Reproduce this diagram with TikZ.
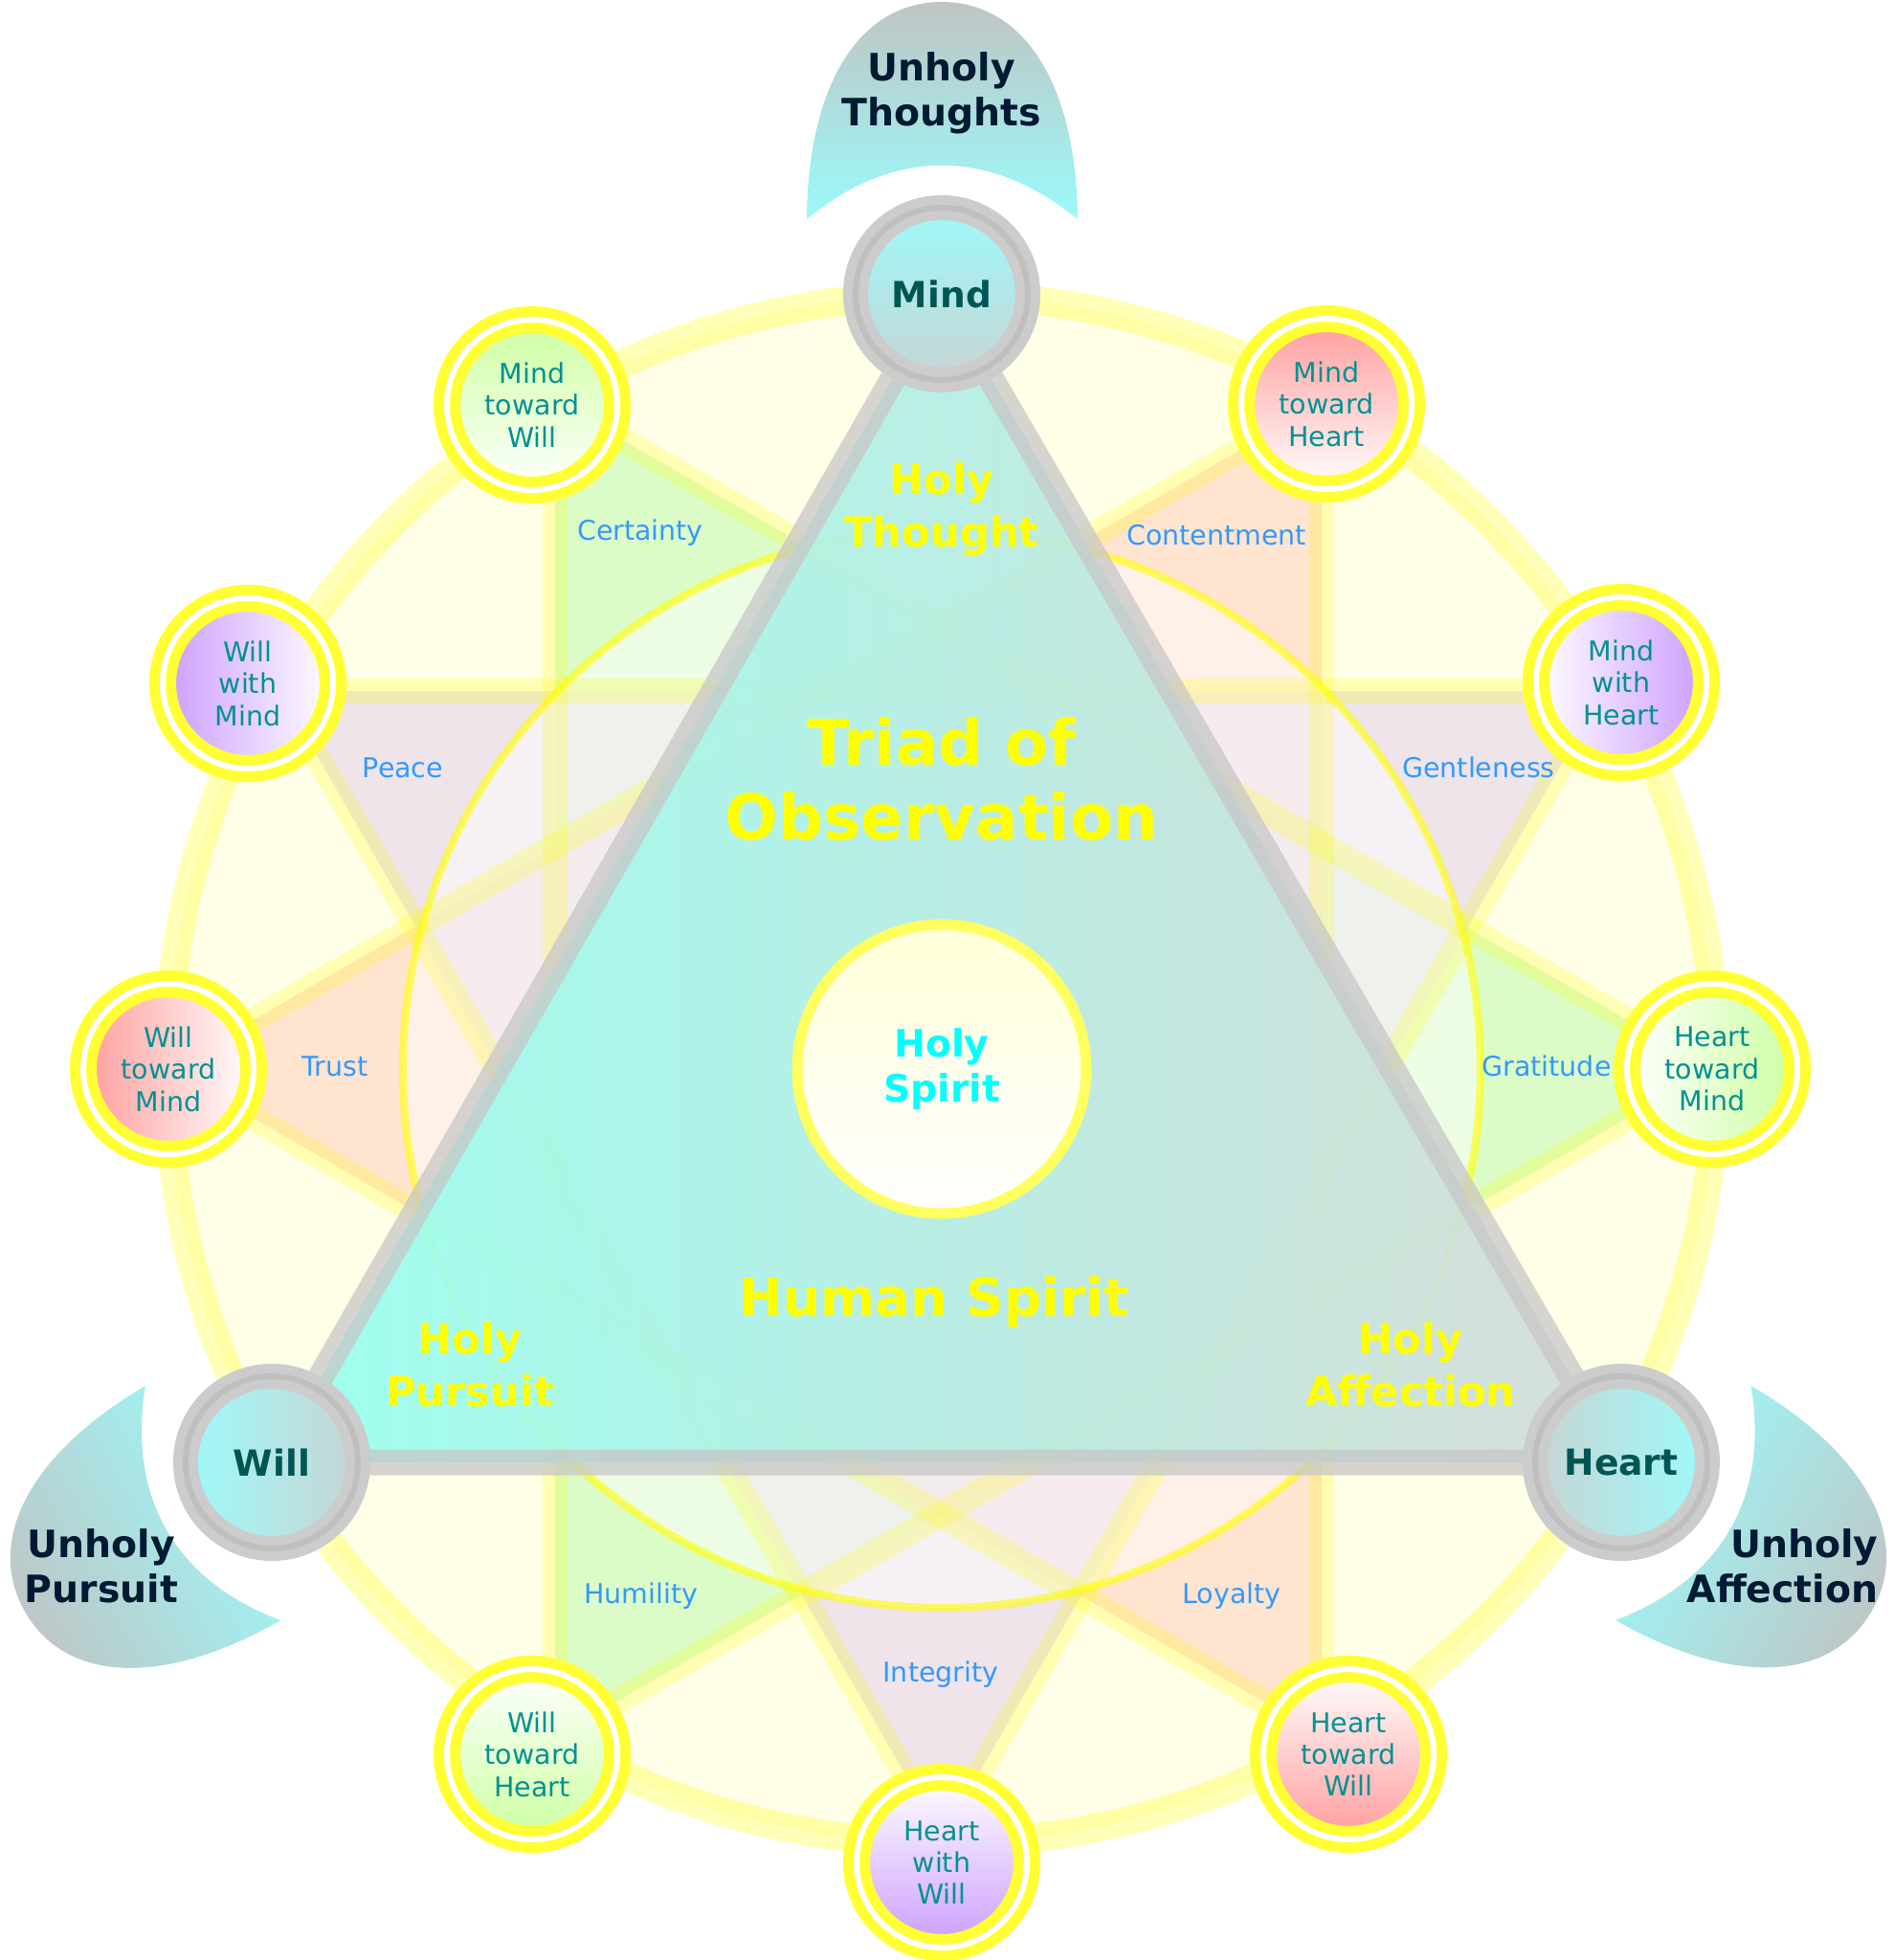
\documentclass[tikz,border=0pt]{standalone}
\usepackage{fontspec}
\setmainfont{DejaVu Sans}
\usepackage{tikz}
\pgfdeclarelayer{back}
\pgfsetlayers{back,main}
\definecolor{pureyellow}{RGB}{255,255,0}
\definecolor{purecyan}{RGB}{0,255,255}
\definecolor{paleyellow}{RGB}{255,254,230}
\definecolor{ringyellow}{RGB}{255,255,51}
\definecolor{greentint}{RGB}{198,252,179}
\definecolor{peachtint}{RGB}{255,211,192}
\definecolor{mauvetint}{RGB}{228,212,235}
\definecolor{greennode}{RGB}{204,255,160}
\definecolor{rednode}{RGB}{255,156,156}
\definecolor{purplenode}{RGB}{204,156,255}
\definecolor{corecyan}{RGB}{158,250,250}
\definecolor{coregray}{RGB}{200,212,212}
\definecolor{tricyan}{RGB}{150,255,240}
\definecolor{trigray}{RGB}{212,220,216}
\definecolor{petalgray}{RGB}{192,196,196}
\definecolor{petalcyan}{RGB}{155,250,250}
\definecolor{coretext}{RGB}{0,85,85}
\definecolor{facettext}{RGB}{0,145,145}
\definecolor{virtueblue}{RGB}{51,153,255}
\definecolor{unholytext}{RGB}{0,26,51}
\definecolor{spiritfill}{RGB}{255,255,216}
\definecolor{spiritring}{RGB}{255,255,96}
\tikzstyle{Core}=[circle, minimum size=1.8cm, inner sep=0pt, draw=black!20, line width=1mm, double=black!25, double distance=0.6mm, top color=corecyan, bottom color=coregray, text=coretext, font=\bfseries\fontsize{10.7}{13}\selectfont]
\tikzstyle{Facet}=[circle, minimum size=1.78cm, inner sep=0pt, draw=ringyellow, line width=1.1mm, double=white, double distance=0.6mm, text=facettext, align=center, font=\fontsize{8.1}{9.5}\selectfont]
\tikzstyle{Green}=[Facet, top color=greennode, bottom color=white]
\tikzstyle{Red}=[Facet, top color=rednode, bottom color=white]
\tikzstyle{Purple}=[Facet, top color=purplenode, bottom color=white]
\tikzstyle{Virtue}=[text=virtueblue, font=\fontsize{8.1}{9.5}\selectfont]
\tikzstyle{Holy}=[text=pureyellow, align=center, font=\bfseries\fontsize{12.3}{15.6}\selectfont]
\tikzstyle{Unholy}=[text=unholytext, inner sep=0pt, font=\bfseries\fontsize{11.2}{13.4}\selectfont]
\tikzstyle{Petal}=[top color=petalgray, bottom color=petalcyan]
\tikzstyle{Edge}=[draw=pureyellow, draw opacity=0.22, line width=2.6mm]

\begin{document}
\begin{tikzpicture}
    \useasboundingbox (-9.84,-9.31) rectangle (9.95,11.17);
    \path
    (0,8.10) node[Core] (mind) {Mind}
    (7.10,-4.11) node[Core, shading angle=-90] (heart) {Heart}
    (-7.00,-4.11) node[Core, shading angle=90] (will) {Will}
    (4.02,6.95) node[Red] (mth) {Mind\\toward\\Heart}
    (7.10,4.04) node[Purple, shading angle=-90] (mwh) {Mind\\with\\Heart}
    (8.05,0) node[Green, shading angle=-90] (htm) {Heart\\toward\\Mind}
    (4.25,-7.16) node[Red, shading angle=180] (htw) {Heart\\toward\\Will}
    (0,-8.29) node[Purple, shading angle=180] (hww) {Heart\\with\\Will}
    (-4.28,-7.16) node[Green, shading angle=180] (wth) {Will\\toward\\Heart}
    (-8.08,0) node[Red, shading angle=90] (wtm) {Will\\toward\\Mind}
    (-7.25,4.03) node[Purple, shading angle=90] (wwm) {Will\\with\\Mind}
    (-4.28,6.94) node[Green] (mtw) {Mind\\toward\\Will};

    \path (0,0) node[circle, minimum size=3.02cm, draw=spiritring, line width=1.1mm, top color=spiritfill, bottom color=white, text=purecyan, align=center, font=\bfseries\fontsize{11.2}{13.4}\selectfont] (spirit) {Holy\\Spirit}
    (0,3.03) node[Holy, font=\bfseries\fontsize{18.7}{22.3}\selectfont] (triad) {Triad of\\Observation}
    (0,5.85) node[Holy] (hthought) {Holy\\Thought}
    (-4.93,-3.09) node[Holy] (hpursuit) {Holy\\Pursuit}
    (4.90,-3.09) node[Holy] (haffect) {Holy\\Affection}
    (-0.08,-2.43) node[Holy, font=\bfseries\fontsize{15.6}{18}\selectfont] (human) {Human Spirit};

    \path (-3.15,5.60) node[Virtue] (certainty) {Certainty}
    (2.87,5.58) node[Virtue] (content) {Contentment}
    (-5.63,3.15) node[Virtue] (peace) {Peace}
    (5.61,3.15) node[Virtue] (gentle) {Gentleness}
    (-6.34,0.03) node[Virtue] (trust) {Trust}
    (6.32,0.03) node[Virtue] (gratitude) {Gratitude}
    (-3.14,-5.51) node[Virtue] (humility) {Humility}
    (-0.01,-6.33) node[Virtue] (integrity) {Integrity}
    (3.03,-5.51) node[Virtue] (loyalty) {Loyalty};

    \path (0,10.20) node[Unholy, align=center] (uthought) {Unholy\\Thoughts}
    (-8.78,-5.19) node[Unholy, align=center] (upursuit) {Unholy\\Pursuit}
    (9.79,-5.19) node[Unholy, align=right, anchor=east] (uaffect) {Unholy\\Affection};

    \begin{pgfonlayer}{back}
    \fill[paleyellow] (spirit.center) circle (8.09);
    \fill[greentint, fill opacity=0.6] ([shift={(0.24,0.04)}]mtw.center) -- ([shift={(0.24,0.18)}]wth.center) -- (htm.center) -- cycle;
    \fill[peachtint, fill opacity=0.6] ([shift={(-0.05,0.01)}]mth.center) -- ([shift={(-0.28,0.20)}]htw.center) -- (wtm.center) -- cycle;
    \fill[mauvetint, fill opacity=0.6] ([shift={(-0.18,-0.09)}]mwh.center) -- ([shift={(0,0.26)}]hww.center) -- ([shift={(0.33,-0.08)}]wwm.center) -- cycle;
    \fill[white, fill opacity=0.5] (spirit.center) circle (5.63);
    \draw[Edge] ([shift={(0.24,0.04)}]mtw.center) -- ([shift={(0.24,0.18)}]wth.center) -- (htm.center) -- cycle;
    \draw[Edge] ([shift={(-0.05,0.01)}]mth.center) -- ([shift={(-0.28,0.20)}]htw.center) -- (wtm.center) -- cycle;
    \draw[Edge] ([shift={(-0.18,-0.09)}]mwh.center) -- ([shift={(0,0.26)}]hww.center) -- ([shift={(0.33,-0.08)}]wwm.center) -- cycle;
    \draw[pureyellow, draw opacity=0.28, line width=3mm] (spirit.center) circle (8.09);
    \draw[pureyellow, draw opacity=0.6, line width=0.8mm] (spirit.center) circle (5.63);
    \draw[left color=tricyan, right color=trigray, fill opacity=0.92, draw=black!22, draw opacity=0.75, line width=2.7mm] (mind.center) -- (heart.center) -- (will.center) -- cycle;
    \shade[Petal] (-1.41,8.88) .. controls (-1.40,10.3) and (-0.85,11.15) .. (0,11.15) .. controls (0.85,11.15) and (1.41,10.3) .. (1.42,8.88) .. controls (0.5,9.63) and (-0.5,9.63) .. (-1.41,8.88) -- cycle;
    \shade[Petal, shift={(0.08,-0.10)}, rotate=120, shading angle=120] (-1.41,8.88) .. controls (-1.40,10.3) and (-0.85,11.15) .. (0,11.15) .. controls (0.85,11.15) and (1.41,10.3) .. (1.42,8.88) .. controls (0.5,9.63) and (-0.5,9.63) .. (-1.41,8.88) -- cycle;
    \shade[Petal, shift={(0.06,-0.09)}, rotate=-120, shading angle=-120] (-1.41,8.88) .. controls (-1.40,10.3) and (-0.85,11.15) .. (0,11.15) .. controls (0.85,11.15) and (1.41,10.3) .. (1.42,8.88) .. controls (0.5,9.63) and (-0.5,9.63) .. (-1.41,8.88) -- cycle;
    \end{pgfonlayer}
\end{tikzpicture}
\end{document}
